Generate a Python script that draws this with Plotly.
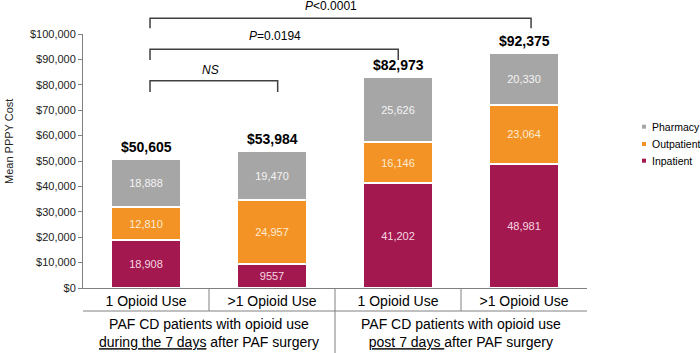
import plotly.graph_objects as go

categories = ["1 Opioid Use", ">1 Opioid Use", "1 Opioid Use", ">1 Opioid Use"]
inpatient = [18908, 9557, 41202, 48981]
outpatient = [12810, 24957, 16146, 23064]
pharmacy = [18888, 19470, 25626, 20330]
totals = [50605, 53984, 82973, 92375]
group_labels = [
    "PAF CD patients with opioid use<br><u>during the 7 days</u> after PAF surgery",
    "PAF CD patients with opioid use<br><u>post 7 days </u>after PAF surgery",
]
comparisons = [
    ("<i>NS</i>", 0, 1),
    ("<i>P</i>=0.0194", 0, 2),
    ("<i>P</i><0.0001", 0, 3),
]

series = [
    ("Inpatient", inpatient, "#A3194F", "#F7D6E3"),
    ("Outpatient", outpatient, "#F39325", "#FDEBD3"),
    ("Pharmacy", pharmacy, "#A6A6A6", "#F4F4F4"),
]

def fmt(v):
    return f"{v:,}" if v >= 10000 else str(v)

x = list(range(len(categories)))
fig = go.Figure()
for name, vals, col, tcol in series:
    fig.add_trace(go.Bar(
        x=x, y=vals, name=name, width=0.55,
        marker=dict(color=col, line=dict(color="white", width=2)),
        text=[fmt(v) for v in vals], textposition="inside",
        insidetextanchor="middle", textangle=0,
        textfont=dict(size=11, color=tcol, family="Liberation Sans, Arial"),
        showlegend=False, hoverinfo="skip",
    ))

annotations = []
shapes = []
for i, t in enumerate(totals):
    annotations.append(dict(x=i, y=t, xref="x", yref="y", text=f"<b>${t:,}</b>",
                            showarrow=False, yanchor="middle", yshift=12,
                            font=dict(size=14, color="black")))

# axis geometry helpers (pixel -> paper)
L, R, W = 83, 113, 700
T, B, H = 34, 65, 353
PW = W - L - R
PH = H - T - B
def py(p):
    return (H - B - p) / PH
def px(p):
    return (p - L) / PW

line_gray = "#808080"
# category dividers
for xv in [0.5, 1.5, 2.5]:
    shapes.append(dict(type="line", xref="x", yref="paper", x0=xv, x1=xv, y0=0, y1=py(311),
                       line=dict(color=line_gray, width=1)))
shapes.append(dict(type="line", xref="x", yref="paper", x0=1.5, x1=1.5, y0=py(311), y1=py(353),
                   line=dict(color=line_gray, width=1)))
shapes.append(dict(type="line", xref="x", yref="paper", x0=-0.52, x1=3.5, y0=py(311), y1=py(311),
                   line=dict(color=line_gray, width=1)))

for gi, g in enumerate(group_labels):
    annotations.append(dict(x=0.5 + 2 * gi, y=py(333), xref="x", yref="paper", text=g,
                            showarrow=False, yanchor="middle", xanchor="center",
                            font=dict(size=14, color="black")))

# significance brackets
bracket_geo = [
    # left x, right x, top px, bottom px, text px, text x
    (0.032, 1.045, 80.7, 92, 70, 0.515),
    (0.032, 2.002, 49.3, 60, 36, 1.02),
    (0.032, 3.056, 18.3, 28.3, 6.5, 1.47),
]
for (label, a, b), (xl, xr, tp, bp, txp, tx) in zip(comparisons, bracket_geo):
    shapes.append(dict(type="path", xref="x", yref="paper",
                       path=f"M {xl},{py(bp)} L {xl},{py(tp)} L {xr},{py(tp)} L {xr},{py(bp)}",
                       line=dict(color="#404040", width=1.5)))
    annotations.append(dict(x=tx, y=py(txp), xref="x", yref="paper", text=label,
                            showarrow=False, yanchor="middle", xanchor="center",
                            font=dict(size=12, color="black")))

# y-axis title
annotations.append(dict(x=px(9), y=py(142), xref="paper", yref="paper", text="Mean PPPY Cost",
                        textangle=-90, showarrow=False, xanchor="center", yanchor="middle",
                        font=dict(size=11, color="#222222")))

# manual legend
legend_rows = [("Pharmacy", "#A6A6A6", 126.7), ("Outpatient", "#F39325", 144), ("Inpatient", "#A3194F", 160.7)]
for name, col, rowy in legend_rows:
    shapes.append(dict(type="rect", xref="paper", yref="paper",
                       x0=px(642), x1=px(646),
                       y0=py(rowy + 2), y1=py(rowy - 2),
                       fillcolor=col, line=dict(width=0)))
    annotations.append(dict(x=px(650), y=py(rowy), xref="paper", yref="paper",
                            text=name, showarrow=False, xanchor="left", yanchor="middle",
                            font=dict(size=10.5, color="black")))

fig.update_layout(
    width=W, height=H,
    margin=dict(l=L, r=R, t=T, b=B),
    barmode="stack",
    plot_bgcolor="white", paper_bgcolor="white",
    font=dict(family="Liberation Sans, Arial", color="black"),
    xaxis=dict(range=[-0.5, 3.5], tickvals=x, ticktext=categories, showline=True,
               linecolor=line_gray, linewidth=1, ticks="", showgrid=False, zeroline=False,
               tickfont=dict(size=14, color="black"), fixedrange=True, automargin=False),
    yaxis=dict(range=[0, 100000], dtick=10000, tickprefix="$", tickformat=",",
               showline=True, linecolor=line_gray, linewidth=1, ticks="outside", ticklen=4,
               tickcolor=line_gray, showgrid=False, zeroline=False,
               tickfont=dict(size=11, color="#222222"),
               fixedrange=True, automargin=False),
    shapes=shapes, annotations=annotations,
    showlegend=False,
)

fig.write_html("out.html", config={"displayModeBar": False},
               post_script="document.body.style.margin='0';document.body.style.overflow='hidden';")
